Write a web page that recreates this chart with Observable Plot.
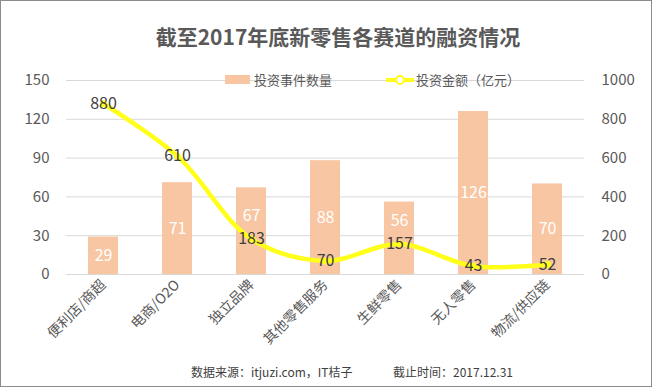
<!DOCTYPE html>
<html>
<head>
<meta charset="utf-8">
<script src="https://cdn.jsdelivr.net/npm/d3@7"></script>
<script src="https://cdn.jsdelivr.net/npm/@observablehq/plot@0.6"></script>
<style>
  html, body { margin: 0; padding: 0; background: #fff; }
  #box { position: relative; width: 652px; height: 387px; box-sizing: border-box; border: 1px solid #8c8c8c; background: #fff; overflow: hidden;
         font-family: "Noto Sans CJK SC", "Noto Sans", sans-serif; }
  #title { position: absolute; left: 12px; width: 650px; top: 21px; text-align: center; font-size: 21px; font-weight: bold; color: #595959; line-height: 28px; }
  #chart { position: absolute; left: 0; top: 0; }
  #legend { position: absolute; top: 70px; left: 0; width: 650px; height: 18px; font-size: 13px; color: #595959; }
  .lg { position: absolute; top: 0; line-height: 18px; white-space: nowrap; }
  #footer { position: absolute; top: 362px; left: 0; width: 650px; font-size: 12px; color: #404040; line-height: 18px; }
  #footer span { position: absolute; white-space: nowrap; }
</style>
</head>
<body>
<div id="box">
  <div id="chart"></div>
  <div id="title"></div>
  <div id="legend"></div>
  <div id="footer"></div>
</div>
<script>
const categories = ["便利店/商超", "电商/O2O", "独立品牌", "其他零售服务", "生鲜零售", "无人零售", "物流/供应链"];
const counts = [29, 71, 67, 88, 56, 126, 70];
const amounts = [880, 610, 183, 70, 157, 43, 52];
const leftTicks = [0, 30, 60, 90, 120, 150];
const rightTicks = [0, 200, 400, 600, 800, 1000];
const seriesNames = ["投资事件数量", "投资金额（亿元）"];
const titleText = "截至2017年底新零售各赛道的融资情况";
const sourceText = "数据来源：itjuzi.com，IT桔子";
const dateText = "截止时间：2017.12.31";

const barColor = "#f8c6a2";
const lineColor = "#ffff1a";
const ratio = 150 / 1000; // right axis -> left axis

const rows = categories.map((c, i) => {
  const lineY = amounts[i] * ratio;
  const labelY = lineY < counts[i] ? Math.max(counts[i] / 2, lineY + 18) : counts[i] / 2;
  return { cat: c, count: counts[i], amount: amounts[i], lineY, labelY };
});

const chart = Plot.plot({
  width: 650,
  height: 355,
  marginTop: 79,
  marginBottom: 82,
  marginLeft: 65,
  marginRight: 67,
  style: { fontFamily: '"Noto Sans CJK SC", "Noto Sans", sans-serif', background: "transparent", overflow: "visible" },
  x: { domain: categories, paddingInner: 0.59, paddingOuter: 0.295, label: null },
  y: { domain: [0, 150], label: null },
  marks: [
    Plot.gridY(leftTicks, { stroke: "#d9d9d9", strokeOpacity: 1, strokeWidth: 1 }),
    Plot.barY(rows, { x: "cat", y: "count", fill: barColor }),
    Plot.ruleY([0], { stroke: "#d9d9d9", strokeWidth: 1 }),
    Plot.axisY(leftTicks, { anchor: "left", tickSize: 0, tickPadding: 17, fontSize: 15, fill: "#595959", label: null }),
    Plot.axisY(rightTicks.map(d => d * ratio), { anchor: "right", tickSize: 0, tickPadding: 17, fontSize: 15, fill: "#595959", label: null, tickFormat: d => String(Math.round(d / ratio)) }),
    Plot.axisX({ tickSize: 0, tickPadding: 8, tickRotate: -45, fontSize: 14, fill: "#595959", label: null }),
    Plot.line(rows, { x: "cat", y: "lineY", stroke: lineColor, strokeWidth: 4.5, curve: "catmull-rom" }),
    Plot.dot(rows, { x: "cat", y: "lineY", r: 3.5, fill: lineColor }),
    Plot.text(rows, { x: "cat", y: "labelY", text: d => String(d.count), fill: "#fff", fontSize: 16 }),
    Plot.text(rows, { x: "cat", y: "lineY", text: d => String(d.amount), fill: "#404040", fontSize: 16 })
  ]
});
document.getElementById("chart").appendChild(chart);

document.getElementById("title").textContent = titleText;

const legend = document.getElementById("legend");
legend.innerHTML = `
  <div class="lg" style="left:224px;top:4px;width:25px;height:9px;background:${barColor}"></div>
  <div class="lg" style="left:253px">${seriesNames[0]}</div>
  <svg class="lg" style="left:385px" width="28" height="18"><line x1="0" x2="28" y1="9" y2="9" stroke="${lineColor}" stroke-width="4"/><circle cx="14" cy="9" r="4" fill="#fff" stroke="${lineColor}" stroke-width="2"/></svg>
  <div class="lg" style="left:415px">${seriesNames[1]}</div>`;

const footer = document.getElementById("footer");
footer.innerHTML = `<span style="left:190px">${sourceText}</span><span style="left:392px">${dateText}</span>`;
</script>
</body>
</html>
